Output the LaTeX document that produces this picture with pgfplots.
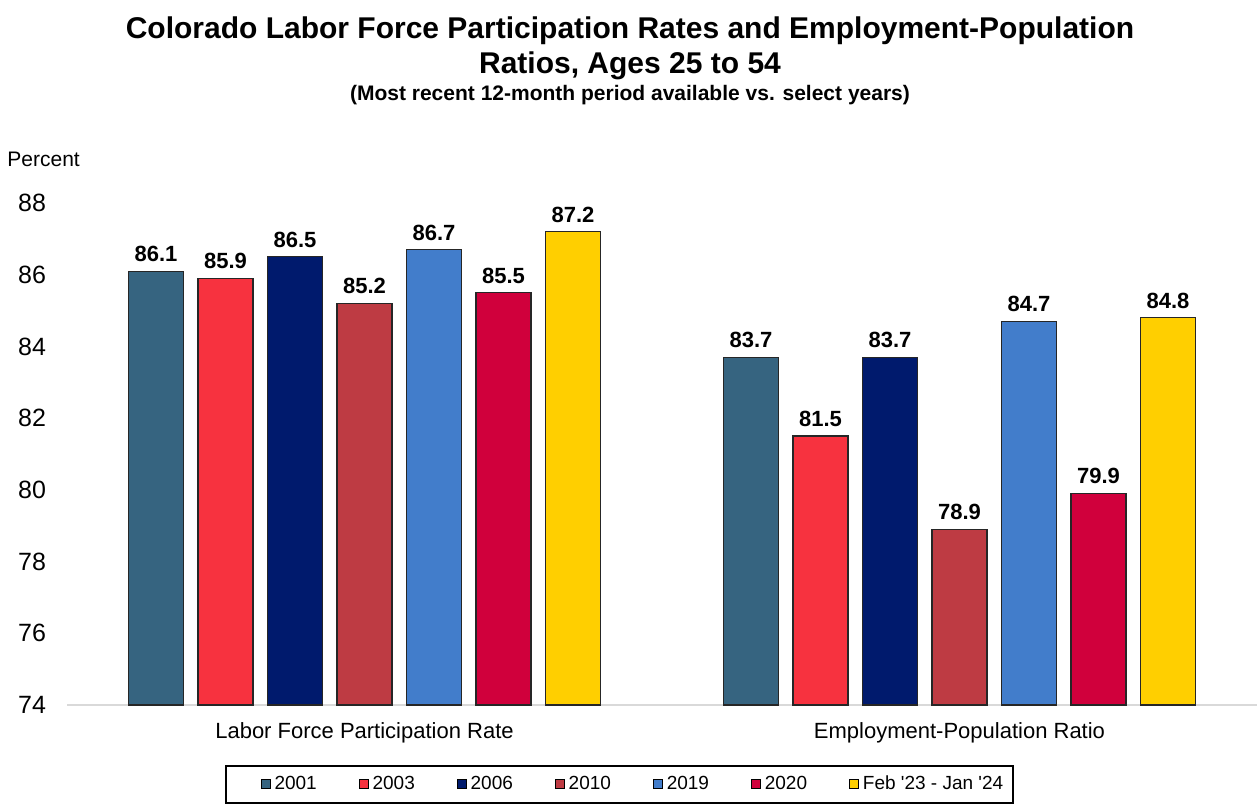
\documentclass[border=0pt]{standalone}
\usepackage{pgfplots}
\pgfplotsset{compat=1.18}
\usepackage{fontspec}
\setmainfont{Liberation Sans}[Ligatures=TeXOff]
\definecolor{c2001}{RGB}{54,100,128}
\definecolor{c2003}{RGB}{247,50,63}
\definecolor{c2006}{RGB}{0,26,109}
\definecolor{c2010}{RGB}{190,59,67}
\definecolor{c2019}{RGB}{66,125,203}
\definecolor{c2020}{RGB}{208,0,60}
\definecolor{cfeb}{RGB}{255,207,0}
\definecolor{axgray}{RGB}{217,217,217}
\definecolor{edge}{RGB}{38,38,38}
\begin{document}
\begin{tikzpicture}
\begin{axis}[
  name=ax,
  scale only axis,
  width=595pt, height=251pt,
  ybar=7.25pt, bar width=27.5pt,
  xmin=-0.5, xmax=1.5,
  ymin=74, ymax=88,
  ytick={74,76,...,88},
  xtick={0,1},
  xticklabels={Labor Force Participation Rate, Employment-Population Ratio},
  axis x line*=bottom, axis y line*=left,
  x axis line style={draw=axgray, line width=0.9pt, -},
  y axis line style={draw=none},
  major tick length=0pt,
  /pgf/number format/assume math mode=true,
  yticklabel style={font=\fontsize{12.5}{14}\selectfont, xshift=-7pt},
  xticklabel style={font=\fontsize{11}{13}\selectfont, yshift=-5pt},
  nodes near coords,
  nodes near coords style={font=\bfseries\fontsize{11}{13}\selectfont, text=black, yshift=1pt,
    /pgf/number format/fixed, /pgf/number format/fixed zerofill, /pgf/number format/precision=1},
  every axis plot/.append style={draw=edge, line width=0.6pt},
  legend columns=7,
  legend style={at={(0.4647,0)}, anchor=center, yshift=-39.5pt, xshift=7pt,
    draw=none, font=\fontsize{9.5}{11}\selectfont,
    inner xsep=0pt, inner ysep=3pt,
    /tikz/every even column/.append style={column sep=19pt}},
  legend image code/.code={\draw[#1,draw=black,line width=0.4pt] (0pt,-2.25pt) rectangle (4.5pt,2.25pt);},
  clip=false,
]
\addplot[fill=c2001] coordinates {(0,86.1) (1,83.7)};
\addplot[fill=c2003] coordinates {(0,85.9) (1,81.5)};
\addplot[fill=c2006] coordinates {(0,86.5) (1,83.7)};
\addplot[fill=c2010] coordinates {(0,85.2) (1,78.9)};
\addplot[fill=c2019] coordinates {(0,86.7) (1,84.7)};
\addplot[fill=c2020] coordinates {(0,85.5) (1,79.9)};
\addplot[fill=cfeb] coordinates {(0,87.2) (1,84.8)};
\legend{2001,2003,2006,2010,2019,2020,{Feb '23 - Jan '24}}
\end{axis}
\draw[black, line width=0.6pt] ([shift={(79.5pt,-30.5pt)}]ax.south west) rectangle ([shift={(473pt,-49pt)}]ax.south west);
\node[anchor=base, font=\bfseries\fontsize{15}{18}\selectfont] at ([shift={(-16pt,82pt)}]ax.north) {Colorado Labor Force Participation Rates and Employment-Population};
\node[anchor=base, font=\bfseries\fontsize{15}{18}\selectfont] at ([shift={(-16pt,64.5pt)}]ax.north) {Ratios, Ages 25 to 54};
\node[anchor=base, font=\bfseries\fontsize{10.5}{12}\selectfont] at ([shift={(-16pt,51pt)}]ax.north) {(Most recent 12-month period available vs. select years)};
\node[anchor=base west, inner sep=0pt, font=\fontsize{10.5}{12}\selectfont] at ([shift={(-30pt,18.5pt)}]ax.north west) {Percent};
\pgfresetboundingbox
\path[use as bounding box] ([shift={(-33.5pt,-49.5pt)}]ax.south west) rectangle ([shift={(0pt,101.5pt)}]ax.north east);
\end{tikzpicture}
\end{document}
